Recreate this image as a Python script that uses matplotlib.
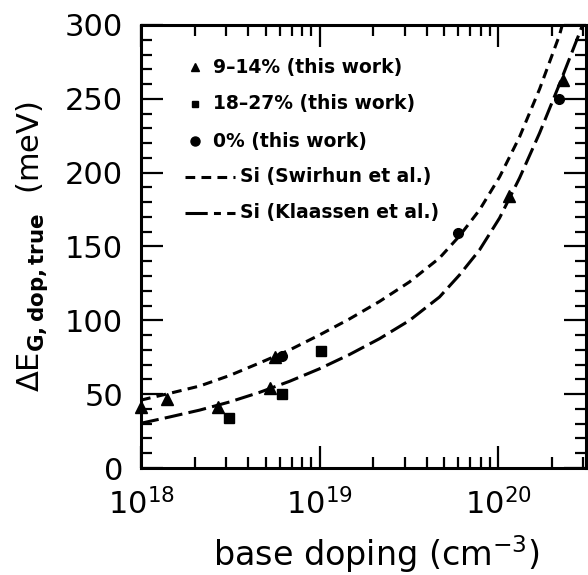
import matplotlib
matplotlib.use("Agg")
import matplotlib.pyplot as plt
from matplotlib.lines import Line2D
from matplotlib.ticker import MultipleLocator, LogLocator, NullFormatter

plt.rcParams['font.family'] = ['DejaVu Sans']
plt.rcParams['lines.scale_dashes'] = False

# ---- data ----
tri_N = [1.0e18, 1.4e18, 2.7e18, 5.3e18, 5.6e18, 1.15e20, 2.3e20]
tri_E = [41, 47, 41, 54, 75, 184, 263]

sq_N = [3.1e18, 6.2e18, 1.02e19]
sq_E = [34, 50, 79]

circ_N = [6.2e18, 6.0e19, 2.2e20]
circ_E = [76, 159, 250]

swirhun_N = [1.0e18, 1.44e18, 2.13e18, 3.13e18, 4.61e18, 6.79e18, 1.0e19, 1.47e19,
             2.17e19, 3.19e19, 4.7e19, 6.08e19, 7.87e19, 1.02e20, 1.32e20,
             1.71e20, 2.21e20, 2.29e20]
swirhun_E = [46.0, 50.5, 55.5, 62.6, 71.1, 79.9, 90.1, 100.9,
             112.8, 126.0, 142.2, 157.1, 174.7, 197.1, 224.2,
             256.7, 293.2, 300]

klaassen_N = [1.0e18, 1.44e18, 2.13e18, 3.13e18, 4.61e18, 6.79e18, 1.0e19, 1.47e19,
              2.17e19, 3.19e19, 4.7e19, 6.08e19, 7.87e19, 1.02e20, 1.32e20,
              1.71e20, 2.21e20, 2.86e20, 2.97e20]
klaassen_E = [30.3, 34.5, 39.2, 44.7, 51.2, 58.7, 67.2, 76.8,
              87.6, 99.9, 115.8, 130.7, 147.6, 169.3, 196.4,
              226.9, 260.0, 294.6, 300]

legend_labels = ["9\u201314% (this work)", "18\u201327% (this work)", "0% (this work)",
                 "Si (Swirhun et al.)", "Si (Klaassen et al.)"]

xticks = [1e18, 1e19, 1e20]
xticklabels = [r"$10^{18}$", r"$10^{19}$", r"$10^{20}$"]
yticks = [0, 50, 100, 150, 200, 250, 300]

# ---- figure ----
fig = plt.figure(figsize=(5.88, 5.75), dpi=100)
ax = fig.add_axes([141/588, 1-468/575, 445/588, 443/575])

ax.set_xscale('log')
ax.set_xlim(1e18, 3.11e20)
ax.set_ylim(0, 300)

short_dash = (7.0, 4.5)
long_dash = (13.0, 4.5)

l1, = ax.plot(swirhun_N, swirhun_E, color='black', lw=2.2)
l1.set_dashes(short_dash)
l2, = ax.plot(klaassen_N, klaassen_E, color='black', lw=2.2)
l2.set_dashes(long_dash)

ax.plot(tri_N, tri_E, linestyle='none', marker='^', color='black', markersize=8, clip_on=False)
ax.plot(sq_N, sq_E, linestyle='none', marker='s', color='black', markersize=6.5, clip_on=False)
ax.plot(circ_N, circ_E, linestyle='none', marker='o', color='black', markersize=7, clip_on=False)

# ticks
ax.set_xticks(xticks)
ax.set_xticklabels(xticklabels)
ax.xaxis.set_minor_locator(LogLocator(base=10, subs=[2, 3, 4, 5, 6, 7, 8, 9], numticks=20))
ax.xaxis.set_minor_formatter(NullFormatter())
ax.set_yticks(yticks)
ax.yaxis.set_minor_locator(MultipleLocator(10))

ax.tick_params(which='both', direction='in', top=True, right=True, width=1.6)
ax.tick_params(which='major', length=16, labelsize=22)
ax.tick_params(which='minor', length=8)
ax.tick_params(axis='y', which='major', pad=13)
ax.tick_params(axis='x', which='major', pad=14)
for s in ax.spines.values():
    s.set_linewidth(2.2)

ax.set_xlabel("base doping (cm$^{-3}$)", fontsize=24)
ax.xaxis.set_label_coords(0.53, -0.148)
ax.set_ylabel(r"$\Delta\mathrm{E}_{\mathbf{G,dop,true}}$  (meV)", fontsize=22)
ax.yaxis.set_label_coords(-0.205, 0.5)

# ---- legend drawn in axes coordinates ----
mk_x = 0.121
txt_x_mk = 0.162
rows = [0.905, 0.822, 0.738, 0.657, 0.576]
markers = ['^', 's', 'o']
msizes = [6, 5, 6.5]
for i in range(3):
    ax.plot([mk_x], [rows[i]], transform=ax.transAxes, marker=markers[i],
            color='black', markersize=msizes[i], linestyle='none')
    ax.text(txt_x_mk, rows[i], legend_labels[i], transform=ax.transAxes,
            fontsize=13.5, fontweight='bold', va='center', ha='left')
for j, dsh in zip([3, 4], [short_dash, (16.0, 4.5, 5.0, 4.5)]):
    ln = Line2D([0.099, 0.211], [rows[j], rows[j]], transform=ax.transAxes,
                color='black', lw=2.2)
    ln.set_dashes(dsh)
    ax.add_line(ln)
    ax.text(0.222, rows[j], legend_labels[j], transform=ax.transAxes,
            fontsize=13.5, fontweight='bold', va='center', ha='left')

fig.savefig("out.png", dpi=100)
